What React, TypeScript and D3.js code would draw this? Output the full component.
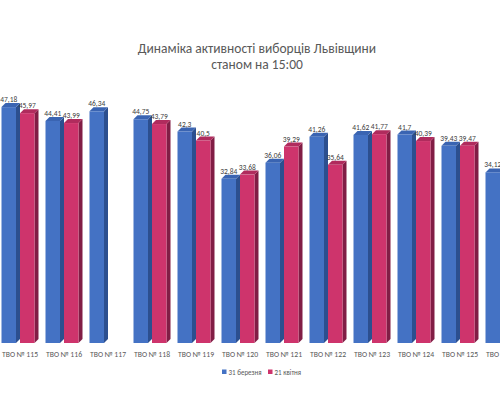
import * as d3 from 'd3';

const W = 500;
const H = 400;

const categories = ['ТВО № 115', 'ТВО № 116', 'ТВО № 117', 'ТВО № 118', 'ТВО № 119', 'ТВО № 120',
    'ТВО № 121', 'ТВО № 122', 'ТВО № 123', 'ТВО № 124', 'ТВО № 125', 'ТВО № 126'];
const seriesNames = ['31 березня', '21 квітня'];
const march31 = [47.18, 44.41, 46.34, 44.75, 42.3, 32.84, 36.06, 41.26, 41.62, 41.7, 39.43, 34.12];
const april21 = [45.97, 43.99, null, 43.79, 40.5, 33.68, 39.29, 35.64, 41.77, 40.39, 39.47, null];

const COLORS = [
    { front: '#4472C4', side: '#2C4F8F', top: '#3A64B2' },
    { front: '#CE346C', side: '#811D45', top: '#B02B5D' },
];
const DEPTH = 4;
const BASE_Y = 343;

const fmt = (v: number) => String(v).replace('.', ',');

export default function App() {
    const x = d3.scaleBand().domain(categories).range([-2, -2 + 44 * categories.length]).padding(0);
    const inner = d3.scaleBand().domain(seriesNames).range([-18.5, 18.5]).padding(0);
    const y = d3.scaleLinear().domain([0, 50]).range([BASE_Y, BASE_Y - 250]);
    const frontW = inner.bandwidth() - DEPTH;

    const series = [march31, april21];

    const bars = categories.map((cat, i) => {
        const c = (x(cat) ?? 0) + x.bandwidth() / 2;
        return (
            <g key={cat}>
                {series.map((vals, s) => {
                    const v = vals[i];
                    if (v == null) return null;
                    const x0 = c + (inner(seriesNames[s]) ?? 0);
                    const x1 = x0 + frontW;
                    const yt = y(v);
                    const col = COLORS[s];
                    return (
                        <g key={s}>
                            <polygon
                                points={`${x1},${yt} ${x1 + DEPTH},${yt - DEPTH} ${x1 + DEPTH},${BASE_Y - DEPTH} ${x1},${BASE_Y}`}
                                fill={col.side}
                            />
                            <polygon
                                points={`${x0},${yt} ${x1},${yt} ${x1 + DEPTH},${yt - DEPTH} ${x0 + DEPTH},${yt - DEPTH}`}
                                fill={col.top}
                            />
                            <rect x={x0} y={yt} width={frontW} height={BASE_Y - yt} fill={col.front} />
                            <text
                                x={x0 + frontW / 2}
                                y={yt - DEPTH - 1}
                                textAnchor="middle"
                                fontSize={7.5}
                                fill="#404040"
                            >
                                {fmt(v)}
                            </text>
                        </g>
                    );
                })}
                <text x={c} y={357} textAnchor="middle" fontSize={7.7} fill="#595959">
                    {cat}
                </text>
            </g>
        );
    });

    const legendX = [222, 268];

    return (
        <svg
            width={W}
            height={H}
            style={{ position: 'absolute', left: 0, top: 0, fontFamily: 'Carlito, "Liberation Sans", Arial, sans-serif' }}
        >
            <rect width={W} height={H} fill="#fff" />
            <text x={257} y={53} textAnchor="middle" fontSize={13.5} fill="#595959">
                Динаміка активності виборців Львівщини
            </text>
            <text x={257} y={69} textAnchor="middle" fontSize={13.5} fill="#595959">
                станом на 15:00
            </text>
            {bars}
            {seriesNames.map((name, s) => (
                <g key={name}>
                    <rect x={legendX[s]} y={369.5} width={4.5} height={4.5} fill={COLORS[s].front} />
                    <text x={legendX[s] + 6.5} y={374.5} fontSize={7} fill="#595959">
                        {name}
                    </text>
                </g>
            ))}
        </svg>
    );
}
